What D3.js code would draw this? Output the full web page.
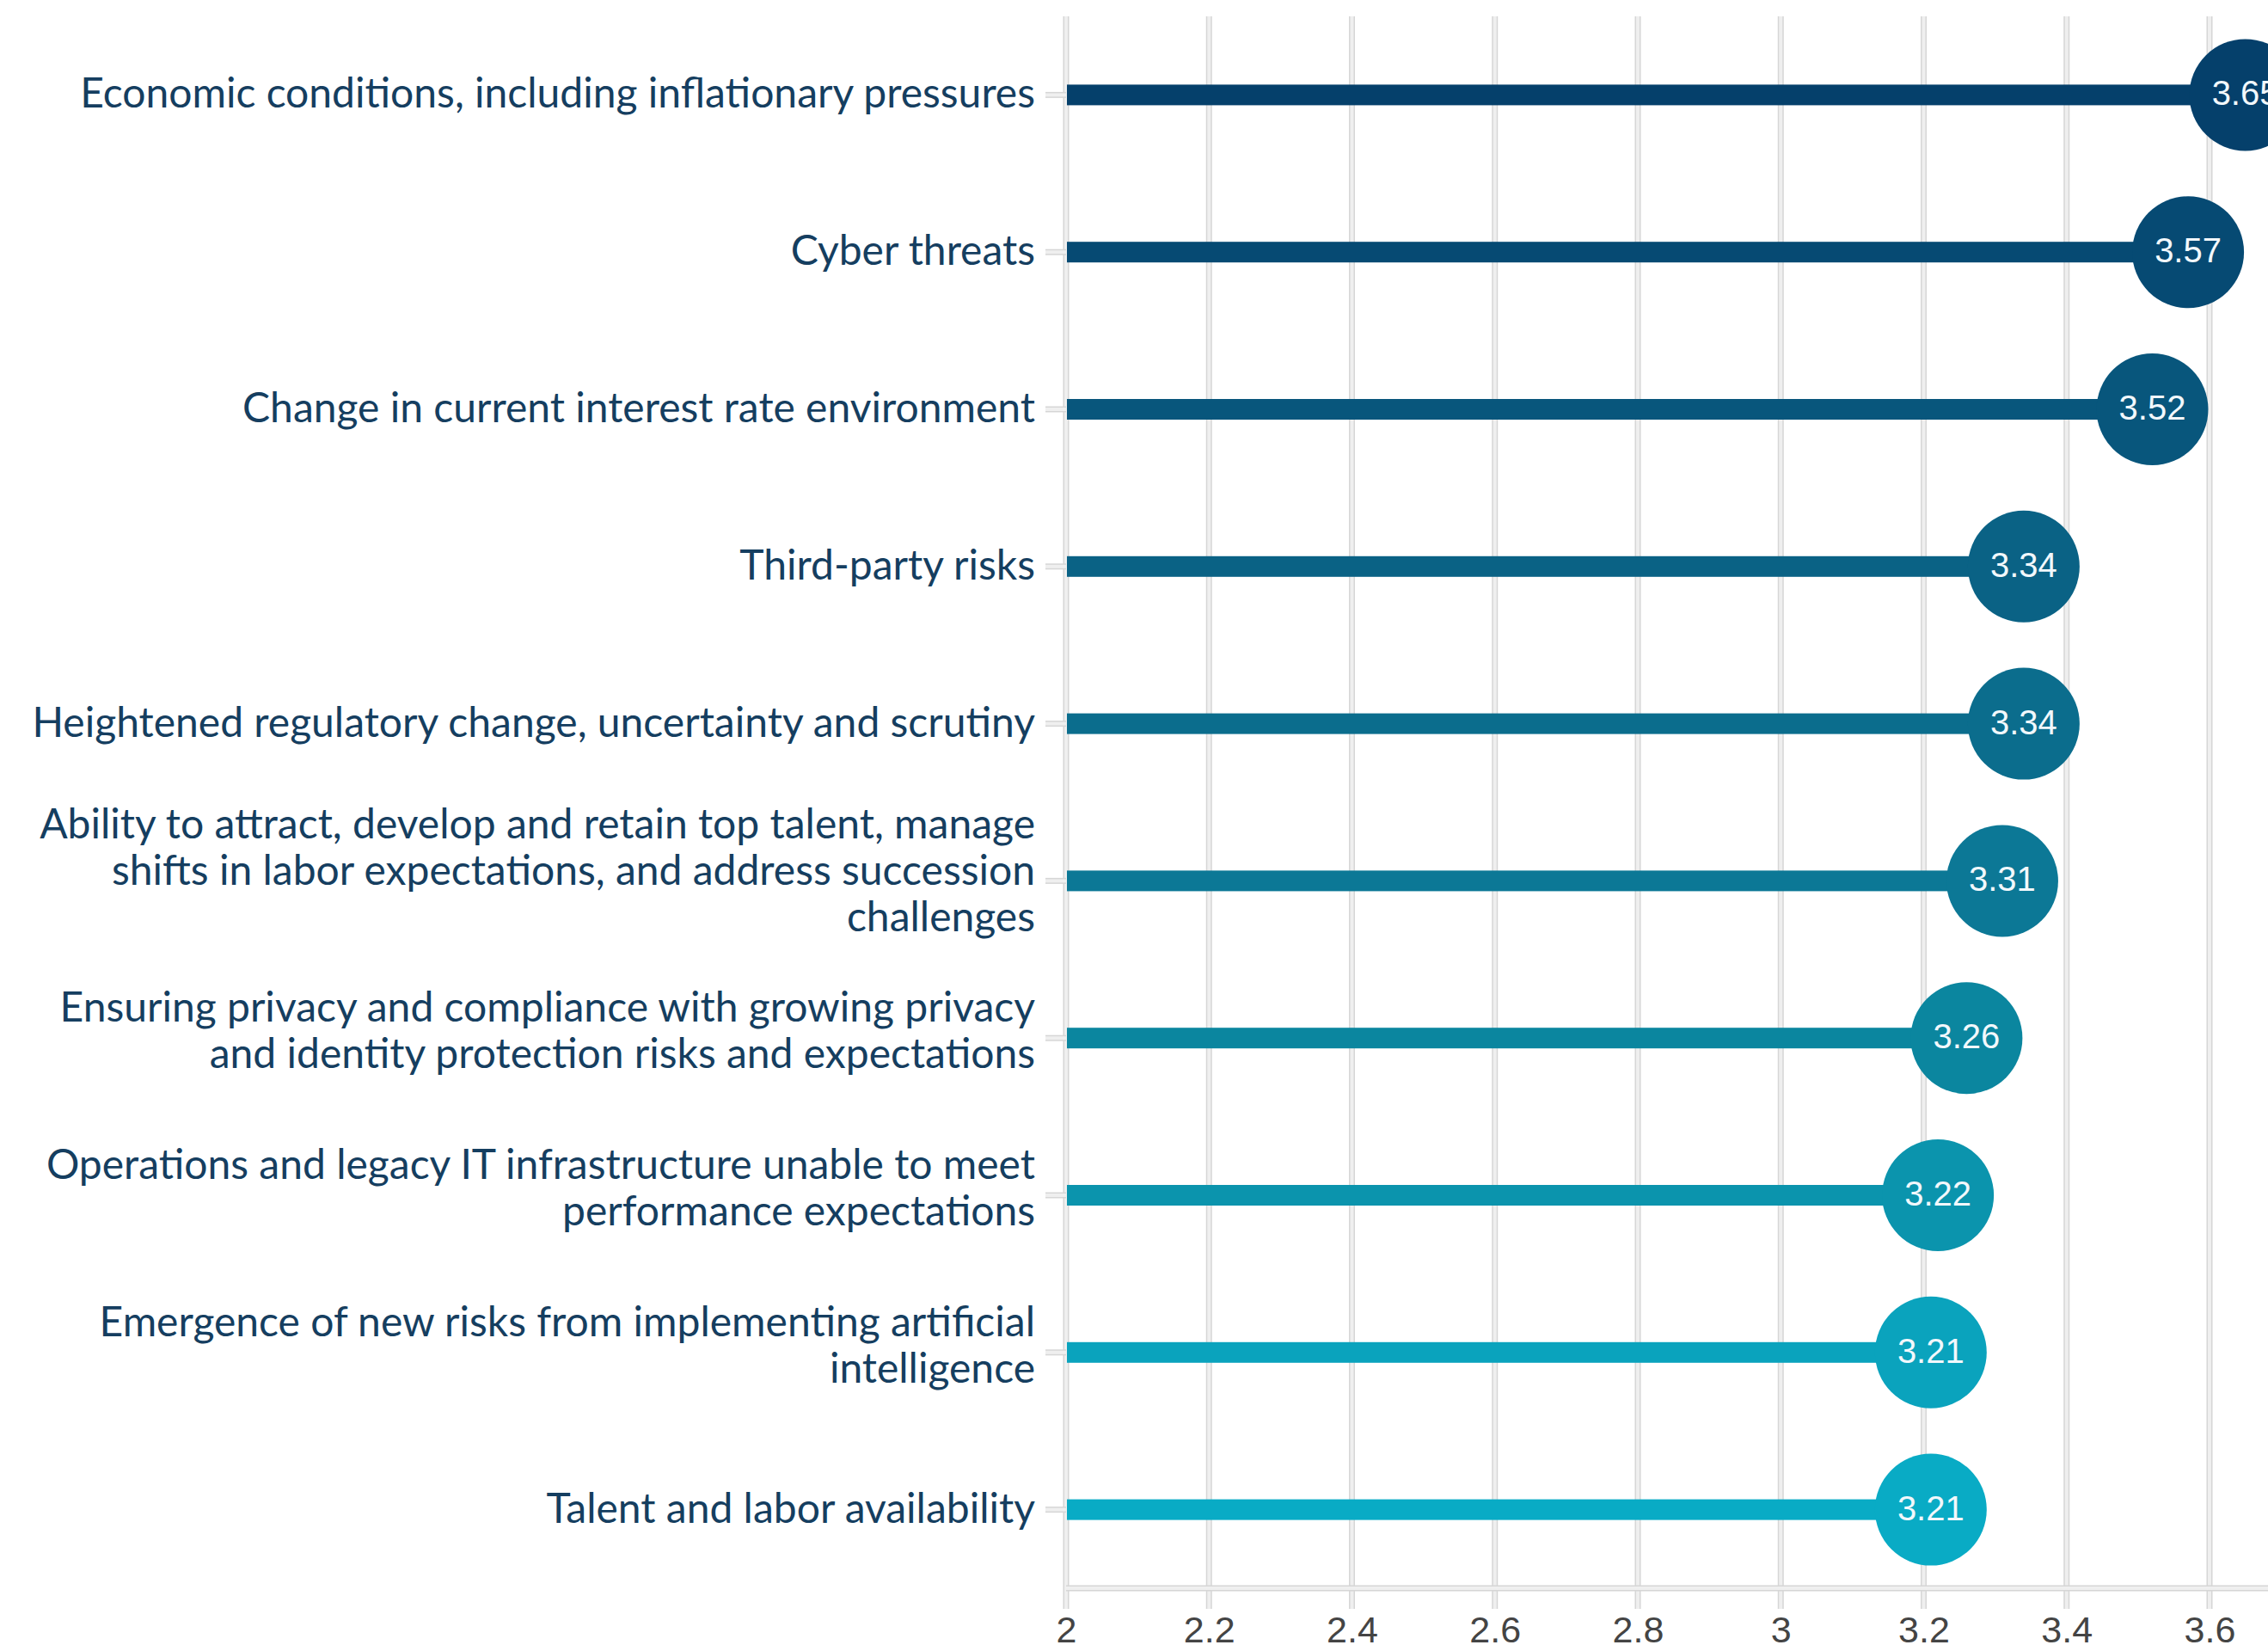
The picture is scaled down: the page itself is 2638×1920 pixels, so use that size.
<!DOCTYPE html>
<html>
<head>
<meta charset="utf-8">
<script src="https://cdn.jsdelivr.net/npm/d3@7"></script>
<style>
  html, body { margin: 0; padding: 0; background: #ffffff; }
  svg { display: block; }
</style>
</head>
<body>
<svg id="chart" width="2638" height="1920"></svg>
<script>
// Risk categories (line breaks mark where the label wraps)
const categories = [
  "Economic conditions, including inflationary pressures",
  "Cyber threats",
  "Change in current interest rate environment",
  "Third-party risks",
  "Heightened regulatory change, uncertainty and scrutiny",
  "Ability to attract, develop and retain top talent, manage\nshifts in labor expectations, and address succession\nchallenges",
  "Ensuring privacy and compliance with growing privacy\nand identity protection risks and expectations",
  "Operations and legacy IT infrastructure unable to meet\nperformance expectations",
  "Emergence of new risks from implementing artificial\nintelligence",
  "Talent and labor availability"
];

// Average rating per category
const scores = [3.65, 3.57, 3.52, 3.34, 3.34, 3.31, 3.26, 3.22, 3.21, 3.21];

// Colour of each lollipop, dark navy down to cyan
const colors = [
  "#05406b", "#064a73", "#08567c", "#0a6285", "#0b6d8d",
  "#0c7896", "#0b869f", "#0b94ad", "#0aa3bd", "#09abc5"
];

// X axis ticks
const xTicks = [2, 2.2, 2.4, 2.6, 2.8, 3, 3.2, 3.4, 3.6];

const W = 2638, H = 1920;
const plot = { left: 1240, right: 2570, top: 19, bottom: 1847 };

const svg = d3.select("#chart");

const x = d3.scaleLinear().domain([2, 3.6]).range([plot.left, plot.right]);
const y = d3.scaleBand().domain(categories).range([plot.top, plot.bottom]).padding(0);

// Gridlines: pale bands with a slightly darker edge
const grid = svg.append("g").attr("class", "grid");
function paleLine(g, x1, y1, x2, y2) {
  g.append("line").attr("x1", x1).attr("y1", y1).attr("x2", x2).attr("y2", y2)
    .attr("stroke", "#d6d6d6").attr("stroke-width", 7);
  g.append("line").attr("x1", x1).attr("y1", y1).attr("x2", x2).attr("y2", y2)
    .attr("stroke", "#efefef").attr("stroke-width", 4);
}
xTicks.forEach(t => paleLine(grid, x(t), plot.top, x(t), plot.bottom + 24));
paleLine(grid, plot.left, plot.bottom, W, plot.bottom);

// Category ticks on the y axis
categories.forEach(c => {
  const cy = y(c) + y.bandwidth() / 2;
  paleLine(grid, plot.left - 24, cy, plot.left, cy);
});

// X axis labels
const xAxis = d3.axisBottom(x).tickValues(xTicks).tickSize(0).tickPadding(0)
  .tickFormat(d3.format("~g"));
const xg = svg.append("g").attr("transform", `translate(0,${plot.bottom + 63})`).call(xAxis);
xg.select(".domain").remove();
xg.selectAll("text")
  .attr("dy", 0).attr("y", 0)
  .attr("font-family", "'Liberation Sans', Arial, sans-serif")
  .attr("font-size", 43)
  .attr("fill", "#444444");

// Y axis labels
const labels = svg.append("g").attr("class", "labels");
categories.forEach(c => {
  const lines = c.split("\n");
  const cy = y(c) + y.bandwidth() / 2;
  const lh = 54;
  const shift = lines.length > 1 ? (lines.length > 2 ? 12 : 9) : 2;
  const t = labels.append("text")
    .attr("text-anchor", "end")
    .attr("font-family", "Lato, 'Noto Sans', sans-serif")
    .attr("font-size", 48)
    .attr("fill", "#153e60");
  lines.forEach((ln, i) => {
    t.append("tspan")
      .attr("x", 1204)
      .attr("y", cy + (i - (lines.length - 1) / 2) * lh + 17 - shift)
      .text(ln);
  });
});

// Lollipop stems
const rows = categories.map((c, i) => ({ c, v: scores[i], col: colors[i] }));
svg.append("g").selectAll("rect").data(rows).join("rect")
  .attr("x", plot.left + 1)
  .attr("y", d => y(d.c) + y.bandwidth() / 2 - 12)
  .attr("width", d => x(d.v) - plot.left - 1)
  .attr("height", 24)
  .attr("fill", d => d.col);

// Lollipop heads
svg.append("g").selectAll("circle").data(rows).join("circle")
  .attr("cx", d => x(d.v))
  .attr("cy", d => y(d.c) + y.bandwidth() / 2)
  .attr("r", 65)
  .attr("fill", d => d.col);

// Value labels
svg.append("g").selectAll("text").data(rows).join("text")
  .attr("x", d => x(d.v))
  .attr("y", d => y(d.c) + y.bandwidth() / 2 + 12)
  .attr("text-anchor", "middle")
  .attr("font-family", "'Liberation Sans', Arial, sans-serif")
  .attr("font-size", 40)
  .attr("fill", "#f2f8fc")
  .text(d => d3.format(".2f")(d.v));
</script>
</body>
</html>
